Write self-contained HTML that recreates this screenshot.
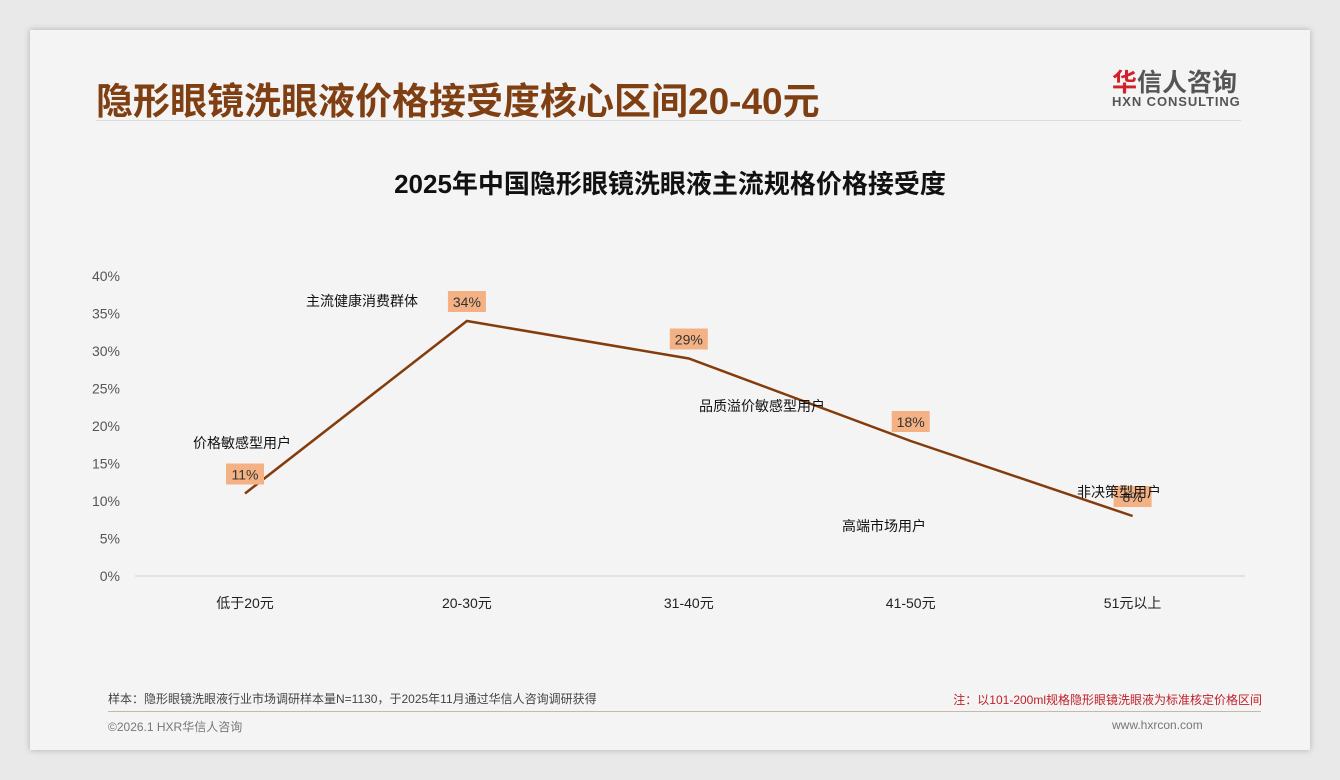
<!DOCTYPE html>
<html><head><meta charset="utf-8">
<style>
body{margin:0;width:1340px;height:780px;background:#e9e9e9;font-family:"Liberation Sans","Noto Sans CJK SC",sans-serif;overflow:hidden}
#card{position:absolute;left:30px;top:30px;width:1280px;height:720px;background:#f4f4f4;box-shadow:0 0 6px rgba(0,0,0,.25)}
.t{position:absolute;white-space:nowrap}
</style></head><body>
<div id="card">
<div class="t" style="left:66px;top:41px;font-size:37px;font-weight:bold;color:#7f3f12">隐形眼镜洗眼液价格接受度核心区间20-40元</div>
<div style="position:absolute;left:66px;top:90px;width:1145px;height:1px;background:#dcdcdc"></div>
<div class="t" style="left:1082px;top:33px;font-size:25px;font-weight:bold;color:#555"><span style="color:#d0202a">华</span>信人咨询</div>
<div class="t" style="left:1082px;top:64px;font-size:13px;font-weight:bold;color:#555;letter-spacing:0.9px">HXN CONSULTING</div>
<div class="t" style="left:0;width:1340px;margin-left:-30px;text-align:center;top:134px;font-size:26px;font-weight:bold;color:#111">2025年中国隐形眼镜洗眼液主流规格价格接受度</div>
<div class="t" style="left:78px;top:660px;font-size:12px;color:#444">样本：隐形眼镜洗眼液行业市场调研样本量N=1130，于2025年11月通过华信人咨询调研获得</div>
<div class="t" style="right:48px;top:661px;font-size:12px;color:#c0202a">注：以101-200ml规格隐形眼镜洗眼液为标准核定价格区间</div>
<div style="position:absolute;left:78px;top:681px;width:1153px;height:1px;background:#c8b8a8"></div>
<div class="t" style="left:78px;top:688px;font-size:12px;color:#777">©2026.1 HXR华信人咨询</div>
<div class="t" style="left:1082px;top:688px;font-size:12px;color:#777">www.hxrcon.com</div>
</div>
<svg id="chart" width="1340" height="780" style="position:absolute;left:0;top:0"></svg>
<script>
const categories=["低于20元","20-30元","31-40元","41-50元","51元以上"];
const values=[11,34,29,18,8];
const yTicks=[0,5,10,15,20,25,30,35,40];
const annotations=["价格敏感型用户","主流健康消费群体","品质溢价敏感型用户","高端市场用户","非决策型用户"];
const annoPos=[[242,443],[362,301],[762,406],[884,526],[1119,492]];
const svg=document.getElementById('chart');
const NS='http://www.w3.org/2000/svg';
const x0=245,dx=221.9,yBase=576,yScale=7.5;
const xs=i=>x0+i*dx, ys=v=>yBase-v*yScale;
function mk(t,a){const e=document.createElementNS(NS,t);for(const k in a)e.setAttribute(k,a[k]);svg.appendChild(e);return e;}
const ax=mk('line',{x1:135,x2:1245,y1:yBase,y2:yBase,stroke:'#d0d0d0','stroke-width':1});


yTicks.forEach(v=>{const t=mk('text',{x:120,y:ys(v)+5,'text-anchor':'end','font-size':14,fill:'#555'});t.textContent=v+'%';

});
categories.forEach((c,i)=>{const t=mk('text',{x:xs(i),y:608,'text-anchor':'middle','font-size':14,fill:'#222'});t.textContent=c;

});
const line=mk('polyline',{points:values.map((v,i)=>xs(i)+','+ys(v)).join(' '),fill:'none',stroke:'#843c0c','stroke-width':2.5});


values.forEach((v,i)=>{const x=xs(i),y=ys(v);
const r=mk('rect',{x:x-19,y:y-30,width:38,height:21,fill:'#f4b183'});


const t=mk('text',{x:x,y:y-14,'text-anchor':'middle','font-size':14,fill:'#333'});t.textContent=v+'%';

});
annotations.forEach((a,i)=>{const t=mk('text',{x:annoPos[i][0],y:annoPos[i][1]+5,'text-anchor':'middle','font-size':14,fill:'#111'});t.textContent=a;

});
</script>
</body></html>
